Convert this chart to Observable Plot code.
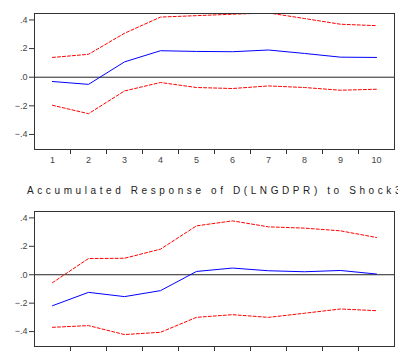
<!DOCTYPE html>
<html>
<head>
<meta charset="utf-8">
<script src="https://cdn.jsdelivr.net/npm/d3@7"></script>
<script src="https://cdn.jsdelivr.net/npm/@observablehq/plot@0.6"></script>
<style>
  html, body { margin: 0; padding: 0; background: #fff; }
  #wrap { position: relative; width: 398px; height: 354px; overflow: hidden; background: #fff; }
  #p1 { position: absolute; left: 0; top: 0; }
  #p2 { position: absolute; left: 0; top: 200px; }
  #title { position: absolute; left: 27px; top: 185px; white-space: nowrap;
           font-family: "Liberation Sans", Arial, sans-serif; font-size: 10px;
           letter-spacing: 3.6px; color: #222; line-height: 12px; }
</style>
</head>
<body>
<div id="wrap">
  <div id="p1"></div>
  <div id="title">Accumulated Response of D(LNGDPR) to Shock3</div>
  <div id="p2"></div>
</div>
<script>
const periods = [1, 2, 3, 4, 5, 6, 7, 8, 9, 10];
const yTicks = [-0.4, -0.2, 0, 0.2, 0.4];

// Upper panel (title cropped off)
const topResponse = [-0.03, -0.05, 0.107, 0.185, 0.18, 0.178, 0.19, 0.166, 0.14, 0.138];
const topUpper    = [0.138, 0.16, 0.307, 0.42, 0.43, 0.44, 0.449, 0.41, 0.37, 0.36];
const topLower    = [-0.196, -0.255, -0.096, -0.037, -0.072, -0.079, -0.061, -0.072, -0.091, -0.084];

// Lower panel: Accumulated Response of D(LNGDPR) to Shock3
const botResponse = [-0.218, -0.124, -0.154, -0.112, 0.023, 0.047, 0.028, 0.021, 0.03, 0.005];
const botUpper    = [-0.056, 0.114, 0.116, 0.18, 0.344, 0.379, 0.337, 0.328, 0.309, 0.262];
const botLower    = [-0.37, -0.358, -0.421, -0.405, -0.3, -0.281, -0.3, -0.271, -0.241, -0.253];

const fmtY = d => d === 0 ? ".0" : d3.format(".1f")(d).replace("0.", ".");

function panel(resp, up, lo, marginTop, marginBottom, height) {
  const rows = (arr) => periods.map((p, i) => ({period: p, value: arr[i]}));
  return Plot.plot({
    width: 398,
    height,
    marginLeft: 34,
    marginRight: 4,
    marginTop,
    marginBottom,
    style: {fontFamily: "'Liberation Sans', Arial, sans-serif", fontSize: "9px", color: "#444", background: "#fff"},
    x: {domain: [0.5, 10.5]},
    y: {domain: [-0.505, 0.445]},
    marks: [
      Plot.axisY({ticks: yTicks, tickFormat: fmtY, tickSize: 5, tickPadding: 2, label: null, stroke: "#333"}),
      Plot.axisX({ticks: [1.5, 2.5, 3.5, 4.5, 5.5, 6.5, 7.5, 8.5, 9.5], tickFormat: () => "", tickSize: 5, label: null, stroke: "#333"}),
      Plot.axisX({ticks: periods, tickFormat: d => String(d), tickSize: 0, tickPadding: 7, label: null}),
      Plot.ruleY([0], {stroke: "#222", strokeWidth: 1}),
      Plot.line(rows(up), {x: "period", y: "value", stroke: "#ff0000", strokeWidth: 1, strokeDasharray: "3,2", clip: true}),
      Plot.line(rows(lo), {x: "period", y: "value", stroke: "#ff0000", strokeWidth: 1, strokeDasharray: "3,2", clip: true}),
      Plot.line(rows(resp), {x: "period", y: "value", stroke: "#0000ff", strokeWidth: 1, clip: true}),
      Plot.frame({stroke: "#333", strokeWidth: 1})
    ]
  });
}

document.getElementById("p1").appendChild(panel(topResponse, topUpper, topLower, 13, 21, 170));
document.getElementById("p2").appendChild(panel(botResponse, botUpper, botLower, 11, 24, 170));
</script>
</body>
</html>
